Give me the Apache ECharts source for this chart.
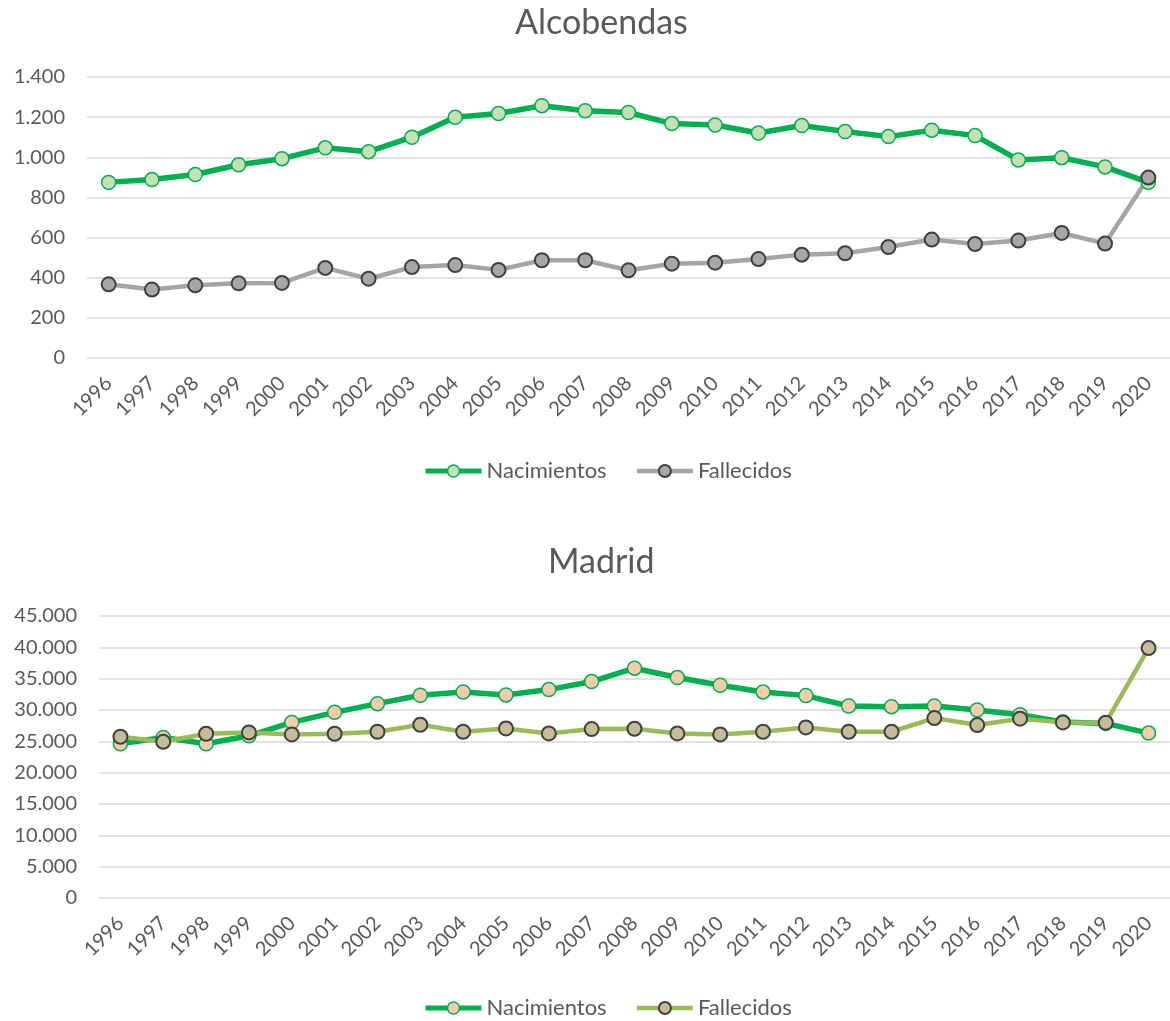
<!DOCTYPE html>
<html>
<head>
<meta charset="utf-8">
<script src="https://cdn.jsdelivr.net/npm/echarts@6/dist/echarts.min.js"></script>
<style>
body { margin: 0; background: #fff; }
.chart { width: 1170px; }
</style>
</head>
<body>
<div id="alcobendas" class="chart" style="height:510px"></div>
<div id="madrid" class="chart" style="height:511px"></div>
<script>
// años del eje x
const years = ['1996', '1997', '1998', '1999', '2000', '2001', '2002', '2003', '2004', '2005', '2006', '2007', '2008',
  '2009', '2010', '2011', '2012', '2013', '2014', '2015', '2016', '2017', '2018', '2019', '2020']

// Alcobendas
const alcoNacimientos = [875, 889, 914, 963, 993, 1047, 1028, 1100, 1199, 1218, 1257, 1232, 1223,
  1168, 1161, 1121, 1158, 1128, 1103, 1135, 1108, 987, 998, 952, 875]
const alcoFallecidos = [367, 341, 362, 372, 374, 449, 395, 453, 463, 439, 487, 487, 437,
  470, 475, 493, 515, 522, 553, 590, 568, 585, 623, 570, 899]

// Madrid
const madNacimientos = [24608, 25622, 24608, 25889, 28024, 29625, 31013, 32348, 32882, 32401, 33255, 34536, 36671,
  35177, 33949, 32882, 32294, 30640, 30533, 30640, 30000, 29252, 28078, 27865, 26317]
const madFallecidos = [25729, 24928, 26209, 26423, 26103, 26209, 26529, 27650, 26529, 27063, 26262, 26956, 27010,
  26262, 26103, 26529, 27223, 26529, 26529, 28718, 27597, 28611, 28024, 27971, 39874]

const FONT = 'Lato'
const TXT = '#595959'

function miles (v) {
  return String(v).replace(/\B(?=(\d{3})+(?!\d))/g, '.')
}

function buildChart (el, cfg) {
  const chart = echarts.init(document.getElementById(el))
  const nacItem = { color: cfg.nacFill, borderColor: '#00b050', borderWidth: 1.5 }
  const falItem = { color: cfg.falFill, borderColor: '#404040', borderWidth: 2 }
  chart.setOption({
    animation: false,
    title: {
      text: cfg.title,
      left: cfg.titleLeft,
      top: cfg.titleTop,
      textStyle: { fontFamily: FONT, fontSize: 34, fontWeight: 'normal', color: TXT }
    },
    legend: {
      top: cfg.legendTop,
      left: 418,
      itemWidth: 56,
      itemHeight: 15,
      itemGap: 28,
      textStyle: { fontFamily: FONT, fontSize: 22, color: TXT },
      data: [
        { name: 'Nacimientos', lineStyle: { width: 5, color: '#00b050' }, itemStyle: nacItem },
        { name: 'Fallecidos', lineStyle: { width: 4.5, color: cfg.falLine }, itemStyle: falItem }
      ]
    },
    grid: { left: cfg.gridLeft, right: 0, top: cfg.gridTop, bottom: cfg.gridBottom },
    xAxis: {
      type: 'category',
      data: years,
      boundaryGap: true,
      axisLine: { show: false },
      axisTick: { show: false },
      axisLabel: { rotate: 45, margin: 22, fontFamily: FONT, fontSize: 20, color: TXT }
    },
    yAxis: {
      type: 'value',
      min: 0,
      max: cfg.max,
      interval: cfg.interval,
      axisLine: { show: false },
      axisTick: { show: false },
      splitLine: { lineStyle: { color: '#d9d9d9', width: 1.5 } },
      axisLabel: { margin: 22, fontFamily: FONT, fontSize: 20, color: TXT, formatter: miles }
    },
    series: [
      {
        name: 'Nacimientos',
        type: 'line',
        data: cfg.nacimientos,
        symbol: 'circle',
        symbolSize: 14,
        lineStyle: { color: '#00b050', width: 5.5 },
        itemStyle: nacItem
      },
      {
        name: 'Fallecidos',
        type: 'line',
        data: cfg.fallecidos,
        symbol: 'circle',
        symbolSize: 14,
        lineStyle: { color: cfg.falLine, width: 4.5 },
        itemStyle: falItem
      }
    ]
  })
  return chart
}

buildChart('alcobendas', {
  title: 'Alcobendas',
  titleLeft: 510,
  titleTop: 1,
  legendTop: 455,
  gridLeft: 87,
  gridTop: 77,
  gridBottom: 152,
  max: 1400,
  interval: 200,
  nacimientos: alcoNacimientos,
  fallecidos: alcoFallecidos,
  nacFill: '#c5e0b4',
  falLine: '#a5a5a5',
  falFill: '#a9a6a7'
})

buildChart('madrid', {
  title: 'Madrid',
  titleLeft: 543,
  titleTop: 30,
  legendTop: 482,
  gridLeft: 99,
  gridTop: 106,
  gridBottom: 123,
  max: 45000,
  interval: 5000,
  nacimientos: madNacimientos,
  fallecidos: madFallecidos,
  nacFill: '#f8cbad',
  falLine: '#9bbb59',
  falFill: '#c4bd97'
})
</script>
</body>
</html>
